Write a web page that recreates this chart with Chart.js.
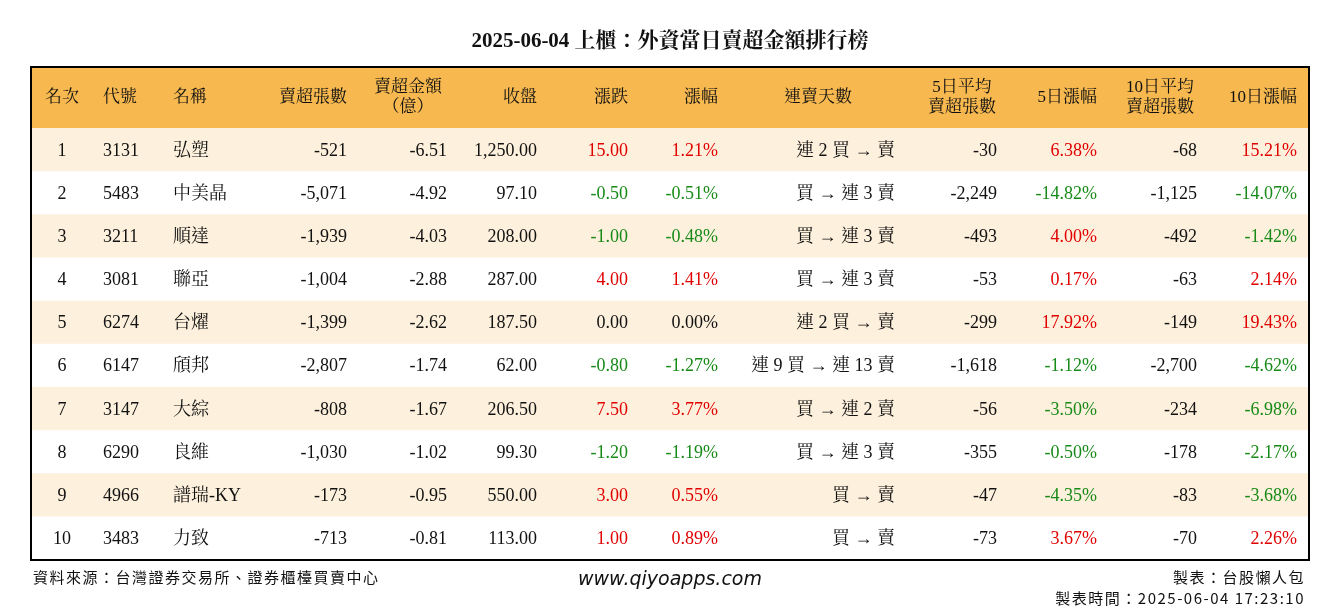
<!DOCTYPE html>
<html><head><meta charset="utf-8">
<script src="https://cdn.jsdelivr.net/npm/chart.js@4"></script>
<style>body{margin:0;background:#fff}canvas{display:block}</style>
</head><body>
<canvas id="c" width="1340" height="612"></canvas>
<script>
const title = "2025-06-04 上櫃：外資當日賣超金額排行榜";
const headers = ["名次","代號","名稱","賣超張數","賣超金額\n（億）","收盤","漲跌","漲幅","連賣天數","5日平均\n賣超張數","5日漲幅","10日平均\n賣超張數","10日漲幅"];
const ranks = [1,2,3,4,5,6,7,8,9,10];
const codes = ["3131","5483","3211","3081","6274","6147","3147","6290","4966","3483"];
const names = ["弘塑","中美晶","順達","聯亞","台燿","頎邦","大綜","良維","譜瑞-KY","力致"];
const sellQty = ["-521","-5,071","-1,939","-1,004","-1,399","-2,807","-808","-1,030","-173","-713"];
const sellAmt = ["-6.51","-4.92","-4.03","-2.88","-2.62","-1.74","-1.67","-1.02","-0.95","-0.81"];
const closes = ["1,250.00","97.10","208.00","287.00","187.50","62.00","206.50","99.30","550.00","113.00"];
const changes = ["15.00","-0.50","-1.00","4.00","0.00","-0.80","7.50","-1.20","3.00","1.00"];
const pcts = ["1.21%","-0.51%","-0.48%","1.41%","0.00%","-1.27%","3.77%","-1.19%","0.55%","0.89%"];
const streaks = ["連 2 買 → 賣","買 → 連 3 賣","買 → 連 3 賣","買 → 連 3 賣","連 2 買 → 賣","連 9 買 → 連 13 賣","買 → 連 2 賣","買 → 連 3 賣","買 → 賣","買 → 賣"];
const avg5 = ["-30","-2,249","-493","-53","-299","-1,618","-56","-355","-47","-73"];
const pct5 = ["6.38%","-14.82%","4.00%","0.17%","17.92%","-1.12%","-3.50%","-0.50%","-4.35%","3.67%"];
const avg10 = ["-68","-1,125","-492","-63","-149","-2,700","-234","-178","-83","-70"];
const pct10 = ["15.21%","-14.07%","-1.42%","2.14%","19.43%","-4.62%","-6.98%","-2.17%","-3.68%","2.26%"];

const HEAD = 1.42, COLS = 1278;
const colX = [31,72,142,316,416,506,597,687,864,966,1066,1166,1266];
const colAlign = ["center","left","left","right","right","right","right","right","right","right","right","right","right"];
const headX = [31,72,142,316,377,506,597,687,787,931,1066,1129,1266];
const headAlign = ["center","left","left","right","center","right","right","right","center","center","right","center","right"];
const FONT = '"Liberation Serif","Noto Serif CJK TC","Noto Sans CJK TC",serif';
const RED = "#e00000", GREEN = "#178a17", BLACK = "#111";
function sgnColor(s){ const v=parseFloat(s); return v>0?RED:v<0?GREEN:BLACK; }

const rowBars = ranks.map((r,i)=>({x:[0,COLS], y:HEAD+i+0.5}));
const tablePlugin = {
  id:'tbl',
  beforeDatasetsDraw(ch){
    const {ctx, scales:{x,y}} = ch;
    ctx.save();
    ctx.fillStyle = "#f6b84f";
    ctx.fillRect(x.getPixelForValue(0), y.getPixelForValue(0), x.getPixelForValue(COLS)-x.getPixelForValue(0), y.getPixelForValue(HEAD)-y.getPixelForValue(0));
    ctx.restore();
  },
  afterDatasetsDraw(ch){
    const {ctx, scales:{x,y}} = ch;
    ctx.save();
    ctx.textBaseline = "middle";
    ctx.font = "17px "+FONT; ctx.fillStyle = BLACK;
    headers.forEach((h,j)=>{
      ctx.textAlign = headAlign[j];
      const lines = h.split("\n"); const yc = y.getPixelForValue(HEAD/2);
      lines.forEach((l,k)=>ctx.fillText(l, x.getPixelForValue(headX[j]), yc + (k-(lines.length-1)/2)*20));
    });
    ctx.font = "18px "+FONT;
    ranks.forEach((r,i)=>{
      const yc = y.getPixelForValue(HEAD+i+0.5)+1;
      const vals = [String(r),codes[i],names[i],sellQty[i],sellAmt[i],closes[i],changes[i],pcts[i],streaks[i],avg5[i],pct5[i],avg10[i],pct10[i]];
      vals.forEach((v,j)=>{
        ctx.textAlign = colAlign[j];
        ctx.fillStyle = (j==6||j==7||j==10||j==12)?sgnColor(v):BLACK;
        ctx.fillText(v, x.getPixelForValue(colX[j]), yc);
      });
    });
    ctx.strokeStyle = "#000"; ctx.lineWidth = 2;
    const x0=x.getPixelForValue(0), x1=x.getPixelForValue(COLS), y0=y.getPixelForValue(0), y1=y.getPixelForValue(HEAD+10);
    ctx.strokeRect(x0,y0,x1-x0,y1-y0);
    ctx.fillStyle = BLACK; ctx.textAlign = "center";
    ctx.font = "bold 21px "+FONT; ctx.fillText(title, 670, 42);
    ctx.font = '15px "Noto Sans CJK TC",sans-serif'; ctx.letterSpacing = "1.5px"; ctx.textAlign="left";
    ctx.fillText("資料來源：台灣證券交易所、證券櫃檯買賣中心", 33, 577);
    ctx.textAlign="right";
    ctx.fillText("製表：台股懶人包", 1305, 577);
    ctx.fillText("製表時間：2025-06-04 17:23:10", 1305, 598);
    ctx.letterSpacing = "0px";
    ctx.textAlign="center"; ctx.font='italic 19px "DejaVu Sans",sans-serif';
    ctx.fillText("www.qiyoapps.com", 670, 580);
    ctx.restore();
  }
};
new Chart(document.getElementById('c'), {
  type:'bar',
  data:{datasets:[{data:rowBars, backgroundColor:ranks.map((r,i)=>i%2===0?"#fdf0dc":"#ffffff"), borderWidth:0, barPercentage:1, categoryPercentage:1}]},
  options:{
    indexAxis:'y', responsive:false, animation:false,
    layout:{padding:{left:31,right:31,top:67,bottom:52}},
    scales:{
      x:{type:'linear',min:0,max:COLS,display:false,offset:false},
      y:{type:'linear',min:0,max:HEAD+10,reverse:true,display:false,offset:false}
    },
    plugins:{legend:{display:false},tooltip:{enabled:false}}
  },
  plugins:[tablePlugin]
});
</script>
</body></html>
